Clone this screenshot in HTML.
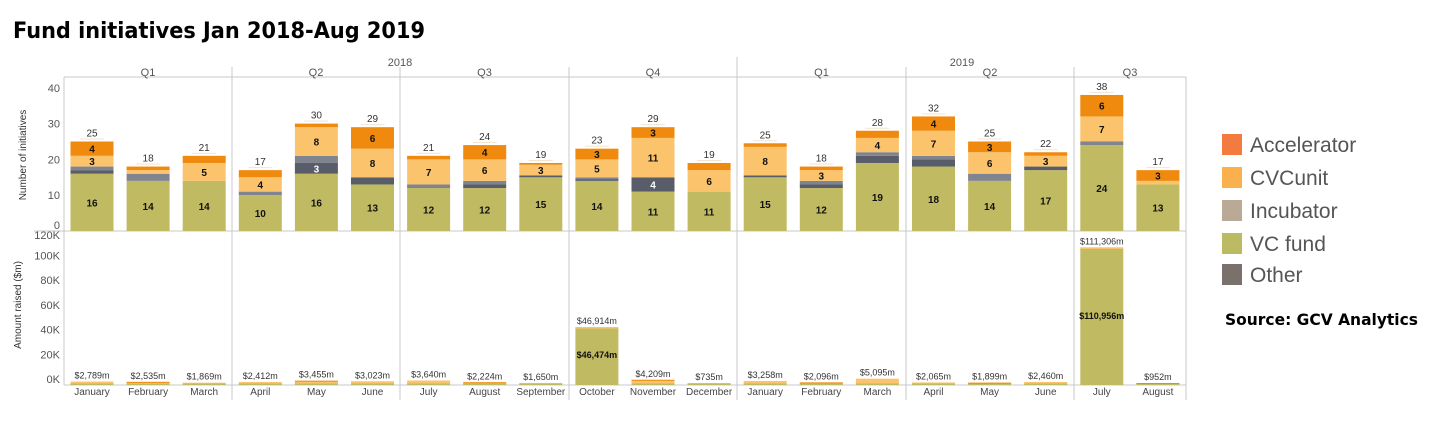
<!DOCTYPE html>
<html><head><meta charset="utf-8"><style>
body{margin:0;width:1448px;height:424px;background:#fff;overflow:hidden}
svg{display:block}
text{font-family:"Liberation Sans",sans-serif}
</style></head><body>
<svg id="s" width="1448" height="424" xmlns="http://www.w3.org/2000/svg">
<text x="13" y="38" font-size="22" font-weight="bold" fill="#000" style="font-family:'DejaVu Sans',sans-serif" textLength="412" lengthAdjust="spacingAndGlyphs">Fund initiatives Jan 2018-Aug 2019</text>
</svg>
<script>
var s=document.getElementById('s'),h='';
function T(x,y,t,o){h+='<text x="'+x+'" y="'+y+'" '+(o||'')+'>'+t+'</text>';}
function R(x,y,w,hh,c){h+='<rect x="'+x+'" y="'+y+'" width="'+w+'" height="'+hh+'" fill="'+c+'"/>';}
function L(x1,y1,x2,y2,c){h+='<line x1="'+x1+'" y1="'+y1+'" x2="'+x2+'" y2="'+y2+'" stroke="'+(c||'#c8c8c8')+'" stroke-width="1"/>';}
var X0=64,X1=1186,cw=56.1;
L(X0,77,X1,77);L(X1,77,X1,400);L(X0,77,X0,385);L(34,231,X1,231);L(X0,385,X1,385);
[232,400,569,737,906,1074].forEach(function(x){L(x,67,x,400);});
L(737,57,737,67);
T(400,66,'2018','font-size="11" fill="#555" text-anchor="middle"');
T(962,66,'2019','font-size="11" fill="#555" text-anchor="middle"');
var q=['Q1','Q2','Q3','Q4','Q1','Q2','Q3'];
var qx=[64,232,400,569,737,906,1074,1186];
for(var i=0;i<7;i++)T((qx[i]+qx[i+1])/2,76,q[i],'font-size="11" fill="#555" text-anchor="middle"');
var Z=231,u=3.58;
[10,20,30,40].forEach(function(v){T(60,Z-v*u+4,v,'font-size="11" fill="#555" text-anchor="end"');});
T(60,229,'0','font-size="11" fill="#555" text-anchor="end"');
var Z2=385,u2=58/46914;
T(60,239,'120K','font-size="11" fill="#555" text-anchor="end"');
[100,80,60,40,20].forEach(function(v){T(60,Z2-v*1000*0.001236-2,v+'K','font-size="11" fill="#555" text-anchor="end"');});
T(60,383,'0K','font-size="11" fill="#555" text-anchor="end"');
T(0,0,'Number of initiatives','font-size="10" fill="#333" text-anchor="middle" transform="translate(26,155) rotate(-90)"');
T(0,0,'Amount raised ($m)','font-size="10" fill="#333" text-anchor="middle" transform="translate(21,305) rotate(-90)"');
var C=['#c0bb62','#585d69','#7f848f','#fbc46c','#ef8a0f'];
var D=[[16,1,1,3,4],[14,0,2,1,1],[14,0,0,5,2],[10,0,1,4,2],[16,3,2,8,1],[13,2,0,8,6],[12,0,1,7,1],[12,1,1,6,4],[15,0.5,0,3,0.5],[14,0.5,0.5,5,3],[11,4,0,11,3],[11,0,0,6,2],[15,0.5,0,8,1],[12,1,1,3,1],[19,2,1,4,2],[18,2,1,7,4],[14,0,2,6,3],[17,1,0,3,1],[24,0,1,7,6],[13,0,0,1,3]];
var tot=[25,18,21,17,30,29,21,24,19,23,29,19,25,18,28,32,25,22,38,17];
var M=['January','February','March','April','May','June','July','August','September','October','November','December','January','February','March','April','May','June','July','August'];
var A=[2789,2535,1869,2412,3455,3023,3640,2224,1650,46914,4209,735,3258,2096,5095,2065,1899,2460,111306,952];
for(var i=0;i<20;i++){
 var x=X0+i*cw+6.5,w=43,y=Z;
 for(var k=0;k<5;k++){var v=D[i][k];if(!v)continue;var hh=v*u;y-=hh;R(x,y,w,hh,C[k]);
  if(v>=3)T(x+w/2,y+hh/2+4,v,'font-size="10" font-weight="bold" fill="'+(k==1?'#fff':'#111')+'" text-anchor="middle"');}
 R(x+w/2-12,y-3,24,1,'#f3e3cc');
 T(x+w/2,y-5,tot[i],'font-size="10" fill="#333" text-anchor="middle"');
 var bh=Math.max(2,A[i]*u2),bt=Z2-bh;
 if(bh>10){R(x,bt,w,bh,'#c0bb62');R(x,bt,w,1.5,'#fbc46c');}
 else{R(x,bt,w,bh,'#fbc46c');R(x,Z2-1.5,w,1.5,'#c0bb62');if(i%3==1)R(x,bt,w,1,'#ef8a0f');}
 T(x+w/2,bt-3,'$'+A[i].toLocaleString('en-US')+'m','font-size="9" fill="#333" text-anchor="middle"');
 T(x+w/2,395,M[i],'font-size="10" fill="#444" text-anchor="middle"');
}
T(X0+9*cw+28,358,'$46,474m','font-size="9" font-weight="bold" fill="#111" text-anchor="middle"');
T(X0+18*cw+28,319,'$110,956m','font-size="9" font-weight="bold" fill="#111" text-anchor="middle"');
var LC=['#f47b40','#fbb04f','#b9a995','#bdba64','#7b716c'],LN=['Accelerator','CVCunit','Incubator','VC fund','Other'],LY=[134,167,200,233,264];
for(var i=0;i<5;i++){R(1222,LY[i],20,21,LC[i]);T(1250,LY[i]+18,LN[i],'font-size="21" fill="#555"');}
T(1225,325,'Source: GCV Analytics','font-size="16" font-weight="bold" fill="#000" style="font-family:\'DejaVu Sans\',sans-serif" textLength="193" lengthAdjust="spacingAndGlyphs"');
s.insertAdjacentHTML('beforeend',h);
</script>
</body></html>
